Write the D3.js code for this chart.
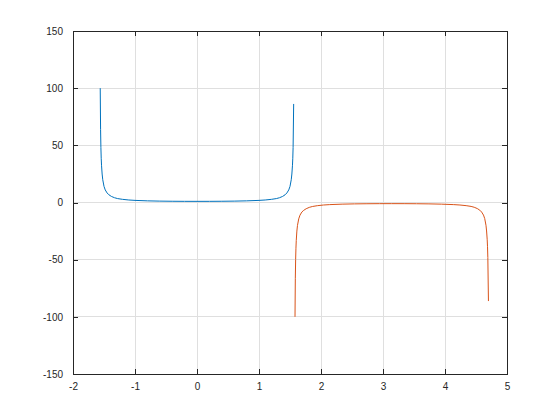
<!DOCTYPE html>
<html>
<head>
<meta charset="utf-8">
<script src="https://cdn.jsdelivr.net/npm/d3@7"></script>
<style>
  body { margin: 0; background: #fff; }
  svg { display: block; }
  .tick text { font-family: "Liberation Sans", "DejaVu Sans", sans-serif; font-size: 10px; fill: #262626; }
</style>
</head>
<body>
<div id="chart"></div>
<script>
// Blue curve (left branch)
const blueX = [-1.5608, -1.555, -1.55, -1.545, -1.54, -1.53, -1.52, -1.50, -1.48, -1.45, -1.42, -1.38, -1.33, -1.28, -1.2, -1.1, -1.0, -0.8, -0.6, -0.4, -0.2, 0,
  0.2, 0.4, 0.6, 0.8, 1.0, 1.1, 1.2, 1.28, 1.33, 1.38, 1.42, 1.45, 1.48, 1.50, 1.52, 1.53, 1.54, 1.545, 1.55, 1.5592];
const blueY = [100, 63.7, 48.1, 38.7, 32.6, 24.9, 19.9, 14.1, 11.0, 8.35, 6.70, 5.29, 4.16, 3.42, 2.76, 2.20, 1.85, 1.44, 1.21, 1.09, 1.02, 1.00,
  1.02, 1.09, 1.21, 1.44, 1.85, 2.20, 2.76, 3.42, 4.16, 5.29, 6.70, 8.35, 11.0, 14.1, 19.9, 24.9, 32.6, 38.7, 48.1, 86.2];

// Red curve (right branch)
const redX = [1.5808, 1.5858, 1.5908, 1.5958, 1.6008, 1.6108, 1.6208, 1.6408, 1.6608, 1.6908, 1.7208, 1.7608, 1.8108, 1.8608, 1.9408, 2.0408, 2.1408, 2.3408, 2.5408, 2.7408, 2.9408, 3.1408,
  3.3408, 3.5408, 3.7408, 3.9408, 4.1408, 4.2408, 4.3408, 4.4208, 4.4708, 4.5208, 4.5608, 4.5908, 4.6208, 4.6408, 4.6608, 4.6708, 4.6808, 4.6858, 4.6908, 4.7008];
const redY = [-100, -66.7, -50.0, -40.0, -33.3, -25.0, -20.0, -14.3, -11.1, -8.35, -6.87, -5.44, -4.27, -3.50, -2.78, -2.20, -1.85, -1.44, -1.21, -1.09, -1.02, -1.00,
  -1.02, -1.09, -1.21, -1.44, -1.85, -2.20, -2.76, -3.42, -4.16, -5.29, -6.70, -8.35, -11.0, -14.1, -19.9, -24.9, -32.6, -38.7, -48.1, -86.2];

const xTicks = [-2, -1, 0, 1, 2, 3, 4, 5];
const yTicks = [-150, -100, -50, 0, 50, 100, 150];

const width = 560, height = 420;
const margin = { top: 31, right: 53, bottom: 46, left: 73 };

const svg = d3.select("#chart").append("svg")
    .attr("width", width)
    .attr("height", height);

const x = d3.scaleLinear().domain([-2, 5]).range([margin.left, width - margin.right]);
const y = d3.scaleLinear().domain([-150, 150]).range([height - margin.bottom, margin.top]);

// grid lines
svg.append("g")
    .attr("shape-rendering", "crispEdges")
    .selectAll("line")
    .data(xTicks)
    .enter().append("line")
    .attr("x1", d => x(d)).attr("x2", d => x(d))
    .attr("y1", y(-150)).attr("y2", y(150))
    .attr("stroke", "#dfdfdf").attr("stroke-width", 1);

svg.append("g")
    .attr("shape-rendering", "crispEdges")
    .selectAll("line")
    .data(yTicks)
    .enter().append("line")
    .attr("x1", x(-2)).attr("x2", x(5))
    .attr("y1", d => y(d)).attr("y2", d => y(d))
    .attr("stroke", "#dfdfdf").attr("stroke-width", 1);

// curves
const line = d3.line().x(d => x(d[0])).y(d => y(d[1]));

svg.append("path")
    .datum(blueX.map((v, i) => [v, blueY[i]]))
    .attr("d", line)
    .attr("fill", "none")
    .attr("stroke", "#0072BD")
    .attr("stroke-width", 1);

svg.append("path")
    .datum(redX.map((v, i) => [v, redY[i]]))
    .attr("d", line)
    .attr("fill", "none")
    .attr("stroke", "#D95319")
    .attr("stroke-width", 1);

// axes with inward ticks
const fmt = d3.format("d");
const axBottom = svg.append("g")
    .attr("transform", `translate(0,${y(-150)})`)
    .call(d3.axisBottom(x).tickValues(xTicks).tickSize(-5).tickPadding(9).tickFormat(fmt));
const axTop = svg.append("g")
    .attr("transform", `translate(0,${y(150)})`)
    .call(d3.axisTop(x).tickValues(xTicks).tickSize(-5).tickFormat(""));
const axLeft = svg.append("g")
    .attr("transform", `translate(${x(-2)},0)`)
    .call(d3.axisLeft(y).tickValues(yTicks).tickSize(-5).tickPadding(10).tickFormat(fmt));
const axRight = svg.append("g")
    .attr("transform", `translate(${x(5)},0)`)
    .call(d3.axisRight(y).tickValues(yTicks).tickSize(-5).tickFormat(""));

[axBottom, axTop, axLeft, axRight].forEach(g => {
    g.select(".domain").attr("stroke", "#262626").attr("stroke-width", 1).attr("shape-rendering", "crispEdges");
    g.selectAll(".tick line").attr("stroke", "#262626").attr("shape-rendering", "crispEdges");
});
axBottom.selectAll(".tick text").text(d => d < 0 ? "-" + Math.abs(d) : d);
axLeft.selectAll(".tick text").text(d => d < 0 ? "-" + Math.abs(d) : d);
</script>
</body>
</html>
